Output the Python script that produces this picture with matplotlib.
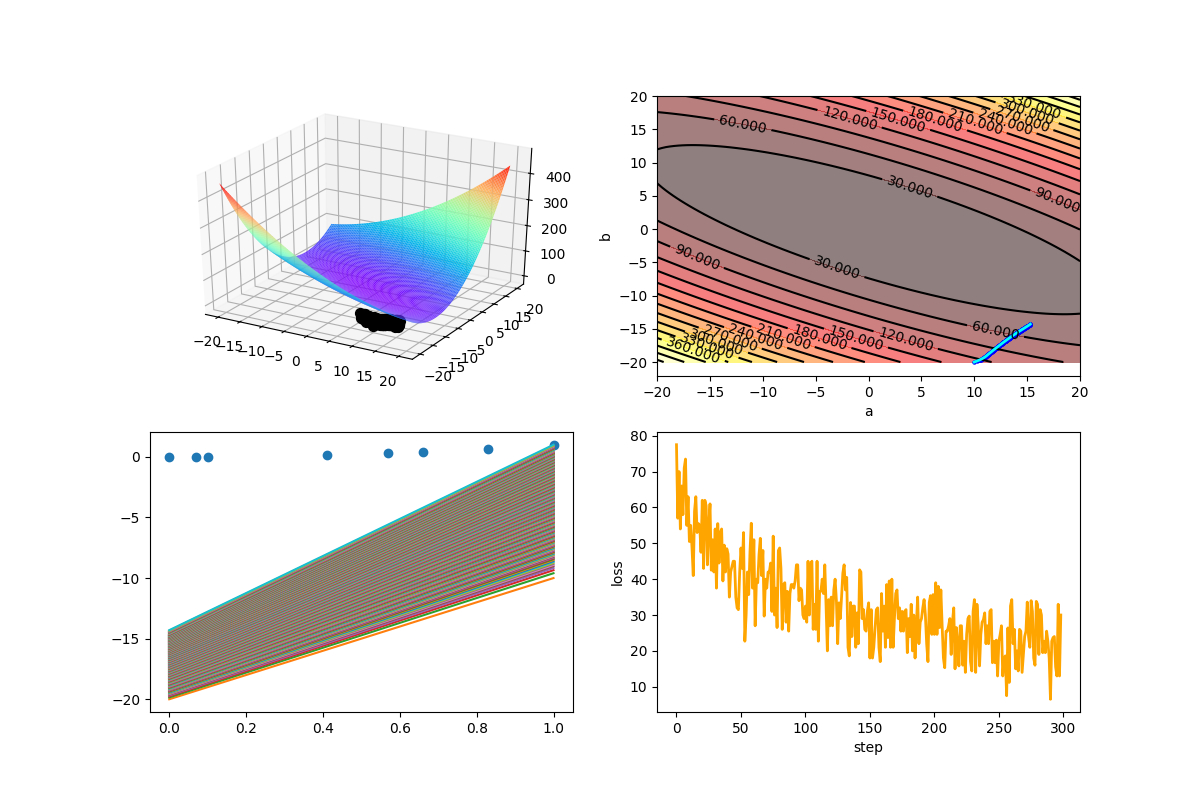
import numpy as np
import matplotlib
matplotlib.use("Agg")
import matplotlib.pyplot as plt
from mpl_toolkits.mplot3d import Axes3D  # noqa

x_data = [0.0, 0.07, 0.10, 0.41, 0.57, 0.66, 0.83, 1.0]
y_data = [0.0, 0.005, 0.01, 0.17, 0.32, 0.43, 0.66, 1.0]

b_list = [
-20.00,-19.85,-19.75,-19.68,-19.62,-19.57,-19.53,-19.49,-19.45,-19.42,-19.38,-19.35,-19.31,-19.28,-19.25,-19.21,-19.18,-19.15,-19.12,-19.09,
-19.06,-19.04,-19.01,-18.98,-18.95,-18.93,-18.90,-18.87,-18.85,-18.82,-18.79,-18.77,-18.74,-18.72,-18.69,-18.67,-18.64,-18.62,-18.59,-18.57,
-18.55,-18.52,-18.50,-18.47,-18.45,-18.43,-18.40,-18.38,-18.36,-18.33,-18.31,-18.29,-18.27,-18.24,-18.22,-18.20,-18.18,-18.15,-18.13,-18.11,
-18.09,-18.07,-18.05,-18.03,-18.00,-17.98,-17.96,-17.94,-17.92,-17.90,-17.88,-17.86,-17.84,-17.82,-17.80,-17.78,-17.76,-17.74,-17.72,-17.70,
-17.68,-17.66,-17.64,-17.62,-17.60,-17.58,-17.56,-17.54,-17.52,-17.50,-17.48,-17.46,-17.44,-17.42,-17.40,-17.38,-17.36,-17.34,-17.32,-17.30,
-17.28,-17.26,-17.25,-17.23,-17.21,-17.19,-17.17,-17.15,-17.14,-17.12,-17.10,-17.08,-17.06,-17.05,-17.03,-17.01,-16.99,-16.97,-16.96,-16.94,
-16.92,-16.90,-16.89,-16.87,-16.85,-16.84,-16.82,-16.80,-16.78,-16.77,-16.75,-16.73,-16.72,-16.70,-16.68,-16.67,-16.65,-16.63,-16.62,-16.60,
-16.58,-16.57,-16.55,-16.54,-16.52,-16.50,-16.49,-16.47,-16.46,-16.44,-16.42,-16.41,-16.39,-16.38,-16.36,-16.35,-16.33,-16.31,-16.30,-16.28,
-16.27,-16.25,-16.24,-16.22,-16.21,-16.19,-16.18,-16.16,-16.15,-16.13,-16.12,-16.10,-16.09,-16.07,-16.06,-16.04,-16.03,-16.01,-16.00,-15.98,
-15.97,-15.95,-15.94,-15.92,-15.91,-15.90,-15.88,-15.87,-15.85,-15.84,-15.82,-15.81,-15.80,-15.78,-15.77,-15.75,-15.74,-15.73,-15.71,-15.70,
-15.68,-15.67,-15.66,-15.64,-15.63,-15.62,-15.60,-15.59,-15.58,-15.56,-15.55,-15.54,-15.52,-15.51,-15.50,-15.48,-15.47,-15.46,-15.45,-15.43,
-15.42,-15.41,-15.39,-15.38,-15.37,-15.36,-15.34,-15.33,-15.32,-15.31,-15.29,-15.28,-15.27,-15.26,-15.24,-15.23,-15.22,-15.21,-15.19,-15.18,
-15.17,-15.16,-15.14,-15.13,-15.12,-15.11,-15.10,-15.08,-15.07,-15.06,-15.05,-15.04,-15.02,-15.01,-15.00,-14.99,-14.98,-14.96,-14.95,-14.94,
-14.93,-14.92,-14.91,-14.89,-14.88,-14.87,-14.86,-14.85,-14.84,-14.82,-14.81,-14.80,-14.79,-14.78,-14.77,-14.75,-14.74,-14.73,-14.72,-14.71,
-14.69,-14.67,-14.65,-14.63,-14.61,-14.59,-14.57,-14.55,-14.53,-14.51,-14.49,-14.47,-14.45,-14.43,-14.41,-14.39,-14.37,-14.34,-14.30]

a_list = [
10.00,10.25,10.40,10.51,10.59,10.65,10.70,10.75,10.79,10.83,10.87,10.91,10.94,10.97,11.00,11.03,11.06,11.08,11.11,11.13,
11.15,11.17,11.19,11.21,11.23,11.25,11.27,11.29,11.31,11.33,11.35,11.37,11.39,11.41,11.43,11.45,11.47,11.49,11.51,11.53,
11.54,11.56,11.58,11.60,11.62,11.64,11.65,11.67,11.69,11.71,11.72,11.74,11.76,11.78,11.79,11.81,11.83,11.85,11.86,11.88,
11.90,11.92,11.93,11.95,11.97,11.98,12.00,12.02,12.03,12.05,12.07,12.08,12.10,12.12,12.13,12.15,12.17,12.18,12.20,12.22,
12.23,12.25,12.26,12.28,12.30,12.31,12.33,12.34,12.36,12.38,12.39,12.41,12.42,12.44,12.46,12.47,12.49,12.50,12.52,12.54,
12.55,12.57,12.58,12.60,12.61,12.63,12.64,12.66,12.67,12.69,12.70,12.72,12.73,12.75,12.76,12.78,12.79,12.81,12.82,12.84,
12.85,12.87,12.88,12.90,12.91,12.93,12.94,12.96,12.97,12.99,13.00,13.01,13.03,13.04,13.06,13.07,13.09,13.10,13.11,13.13,
13.14,13.16,13.17,13.18,13.20,13.21,13.23,13.24,13.25,13.27,13.28,13.30,13.31,13.32,13.34,13.35,13.37,13.38,13.39,13.41,
13.42,13.43,13.45,13.46,13.47,13.49,13.50,13.52,13.53,13.54,13.56,13.57,13.58,13.60,13.61,13.62,13.64,13.65,13.66,13.68,
13.69,13.70,13.72,13.73,13.74,13.76,13.77,13.78,13.80,13.81,13.82,13.84,13.85,13.86,13.87,13.89,13.90,13.91,13.93,13.94,
13.95,13.97,13.98,13.99,14.00,14.02,14.03,14.04,14.06,14.07,14.08,14.09,14.11,14.12,14.13,14.15,14.16,14.17,14.18,14.20,
14.21,14.22,14.23,14.25,14.26,14.27,14.28,14.30,14.31,14.32,14.33,14.35,14.36,14.37,14.38,14.40,14.41,14.42,14.43,14.45,
14.46,14.47,14.48,14.50,14.51,14.52,14.53,14.54,14.56,14.57,14.58,14.59,14.61,14.62,14.63,14.64,14.65,14.67,14.68,14.69,
14.70,14.71,14.73,14.74,14.75,14.76,14.77,14.79,14.80,14.81,14.82,14.83,14.85,14.86,14.87,14.88,14.89,14.91,14.92,14.93,
14.94,14.96,14.98,15.00,15.02,15.04,15.06,15.08,15.10,15.12,15.14,15.15,15.17,15.19,15.21,15.23,15.25,15.27,15.30]

loss_list = [
77.5,57,70,54,66,58,71,73.5,55,63,50.5,55,49,41,59,63,53,55.5,55,47.5,
62,43,62,60.5,44,55,61,42.5,51,42,54,37.5,55.5,44.5,53,54,39.5,49.5,42,48.5,
47,35,42,43.5,45,45,35,32,31.5,42,48.7,43,53,22.7,30,42,35.7,47.7,55.6,37.5,
51,27,40,39,46.8,51.4,41,48,29.7,40,37.5,42,42,44.5,31,52,30,37.5,26.5,48,
48.7,43,26,38.5,39,28,36.6,25.5,36,38.5,38.5,37.5,39.5,44,44,34,37.5,37,30,29,
32.5,28,45,30,44,45,26,33,26,45,22.7,36.6,36.6,40,36,44,32.5,20,34.3,27,
35,27,37,40,34,22,33.4,29,35,41.7,44,37,40.5,21,18.6,33.5,24,32.5,32.5,21,
30.6,22,42.6,42,29,31.5,26,25.5,31,33.4,18,31.5,18,21,26.5,31.5,32,21,17,36,
25.5,32.5,21,38.5,23.7,39.5,21,40,21,29,36,37,29,32,25.5,31,25.5,31,31.5,19.5,
29,24,33,20,30,18,27,35,22,28,
29,32,34.3,30,22,17,33.5,35.4,24.6,35.7,24.6,39,24.6,38,26.5,37,27,18,15.3,25.5,
25.5,27,29,19,28,32,15,26.5,22,15.8,27,27,16,22.7,14,24.6,29,29.7,17,14.4,
31,34.3,14,33,27,15.8,24.6,28,28.7,30.6,22,27,22,31,31.5,16.7,22.7,16.7,23,13,
22.7,24.6,27,13,18,18.6,7.5,26.4,11.2,32.5,34.3,22,26,15,20,14.4,26,25.5,14,19,
24,25.5,33.6,24,21,34,31,18,16,33.8,33,19,31.5,30,19.5,22.7,19.5,25.5,22.7,18,
6.5,22.7,23.7,24,15.5,13,33,13,30]

label_levels = [30, 30, 60, 60, 90, 90, 120, 120, 150, 150, 180, 180, 210, 210, 240, 240, 270, 270, 300, 300, 330, 330, 360]
label_a = [3.9, -3.0, -11.9, 12.0, 17.85, -16.25, -1.8, 3.5, 2.8, -1.2, 6.3, -4.65, 10.07, -8.1, 12.9, -10.7, 14.5, -13.1, 15.0, -14.4, 15.7, -15.3, -16.6]
label_side = [1, -1, 1, -1, 1, -1, 1, -1, 1, -1, 1, -1, 1, -1, 1, -1, 1, -1, 1, -1, 1, -1, -1]

a_grid = np.linspace(-20, 20, 100)
b_grid = np.linspace(-20, 20, 100)
A, B = np.meshgrid(a_grid, b_grid)
xd = np.array(x_data)
yd = np.array(y_data)
Z = 0.5 * np.mean((A[..., None] * xd + B[..., None] - yd) ** 2, axis=-1)

fig = plt.figure(figsize=(12, 8), dpi=100)

ax1 = fig.add_subplot(2, 2, 1, projection="3d")
ax1.apply_aspect = lambda position=None: None
ax1.set_box_aspect((1, 1, 1), zoom=0.95)
ax1.plot_surface(A, B, Z, rstride=1, cstride=1, cmap="rainbow")
ax1.scatter(a_list, b_list, loss_list, s=50, c="black", depthshade=False)

ax2 = fig.add_subplot(2, 2, 2)
ax2.contourf(A, B, Z, 15, alpha=0.5, cmap="hot")
C = ax2.contour(A, B, Z, 15, colors="black")
label_points = []
for lev, a0, side in zip(label_levels, label_a, label_side):
    residual = a0 * xd - yd
    m = residual.mean()
    v = (residual ** 2).mean()
    label_points.append((a0, -m + side * np.sqrt(max(2 * lev - v + m ** 2, 0.0))))
ax2.clabel(C, inline=True, fontsize=10, fmt="%1.3f", manual=label_points)
ax2.scatter(a_list, b_list, s=5, c="blue")
ax2.plot(a_list, b_list, color="cyan", lw=2)
ax2.set_xlim(-20, 20)
ax2.set_ylim(-22.1, 20)
ax2.set_xlabel("a")
ax2.set_ylabel("b")

ax3 = fig.add_subplot(2, 2, 3)
ax3.scatter(x_data, y_data)
for k, (ak, bk) in enumerate(zip(a_list, b_list)):
    ax3.plot([0.0, 1.0], [bk, ak + bk], color=f"C{(k + 1) % 10}")

ax4 = fig.add_subplot(2, 2, 4)
ax4.plot(range(len(loss_list)), loss_list, color="orange", lw=2)
ax4.set_xlabel("step")
ax4.set_ylabel("loss")

fig.savefig("out.png", dpi=100)
